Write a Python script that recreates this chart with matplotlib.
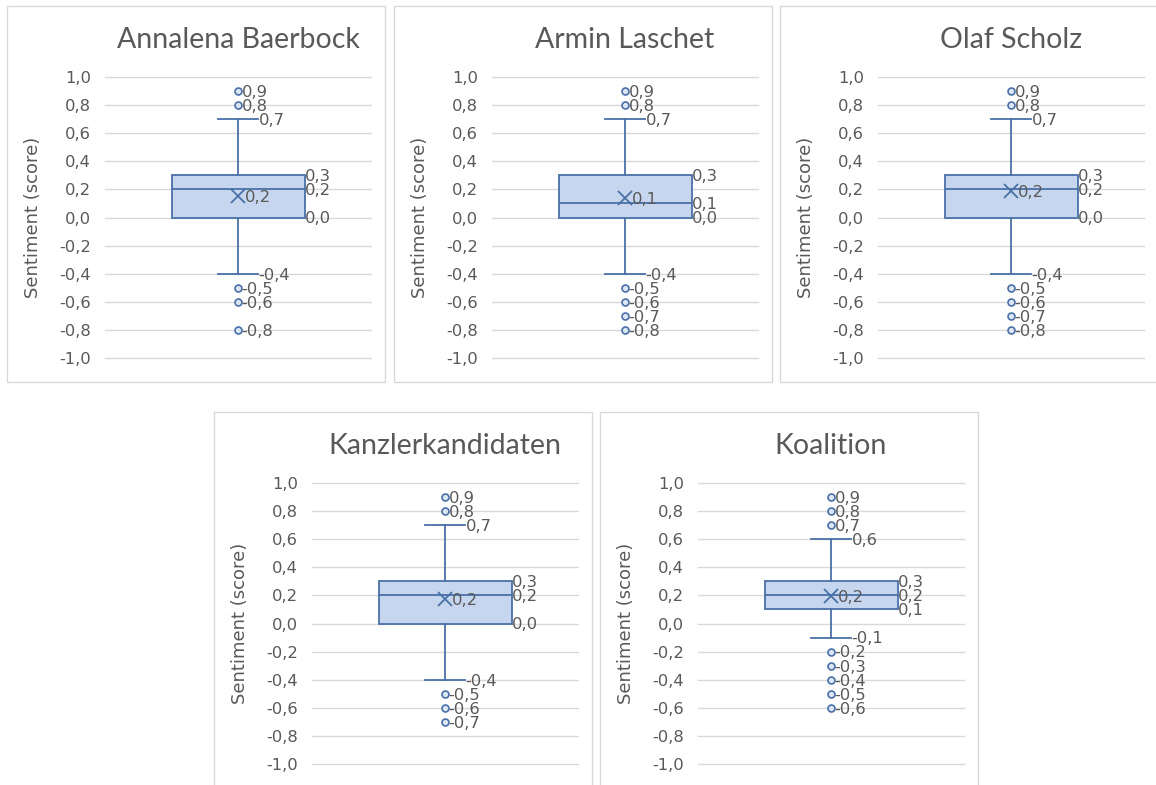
import matplotlib
matplotlib.use("Agg")
import matplotlib.pyplot as plt
from matplotlib.patches import Rectangle
from matplotlib.ticker import FuncFormatter

plt.rcParams['font.family'] = ['DejaVu Sans']

# sentiment score summaries per group
titles = ["Annalena Baerbock", "Armin Laschet", "Olaf Scholz",
          "Kanzlerkandidaten", "Koalition"]
q1 = [0.0, 0.0, 0.0, 0.0, 0.1]
median = [0.2, 0.1, 0.2, 0.2, 0.2]
q3 = [0.3, 0.3, 0.3, 0.3, 0.3]
whisker_low = [-0.4, -0.4, -0.4, -0.4, -0.1]
whisker_high = [0.7, 0.7, 0.7, 0.7, 0.6]
mean = [0.152, 0.14, 0.19, 0.171, 0.197]
outliers = [
    [0.9, 0.8, -0.5, -0.6, -0.8],
    [0.9, 0.8, -0.5, -0.6, -0.7, -0.8],
    [0.9, 0.8, -0.5, -0.6, -0.7, -0.8],
    [0.9, 0.8, -0.5, -0.6, -0.7],
    [0.9, 0.8, 0.7, -0.2, -0.3, -0.4, -0.5, -0.6],
]
y_ticks = [-1.0, -0.8, -0.6, -0.4, -0.2, 0.0, 0.2, 0.4, 0.6, 0.8, 1.0]

W, H = 1156, 785
BLUE = '#4a70a8'
FILL = '#c6d6ee'
GREY_TXT = '#595959'
GRID = '#d9d9d9'
SMALL = 11.8

# top-left corner of each chart frame, in pixels
frames = [(7, 6), (394, 6), (780, 6), (214, 412), (600, 412)]
FRAME_W, FRAME_H = 378, 376
PLOT_L, PLOT_T, PLOT_W, PLOT_H = 98, 71, 266, 281
CAP_W = 0.15


def comma(v, pos=None):
    return f"{v:.1f}".replace('.', ',')


fig = plt.figure(figsize=(W / 100, H / 100), dpi=100)

for i, (fx, fy) in enumerate(frames):
    fig.patches.append(Rectangle((fx / W, 1 - (fy + FRAME_H) / H), FRAME_W / W, FRAME_H / H,
                                 transform=fig.transFigure, facecolor='none',
                                 edgecolor=GRID, lw=1.0, zorder=0))
    ax = fig.add_axes([(fx + PLOT_L) / W, 1 - (fy + PLOT_T + PLOT_H) / H, PLOT_W / W, PLOT_H / H])
    ax.set_facecolor('none')

    stats = [dict(q1=q1[i], med=median[i], q3=q3[i], whislo=whisker_low[i],
                  whishi=whisker_high[i], mean=mean[i], fliers=outliers[i])]
    ax.bxp(stats, positions=[1], widths=0.5, capwidths=CAP_W, patch_artist=True,
           showmeans=True,
           boxprops=dict(facecolor=FILL, edgecolor=BLUE, lw=1.3),
           medianprops=dict(color=BLUE, lw=1.3),
           whiskerprops=dict(color=BLUE, lw=1.3),
           capprops=dict(color=BLUE, lw=1.3),
           flierprops=dict(marker='o', markerfacecolor='#dce6f4', markeredgecolor=BLUE,
                           markersize=5, markeredgewidth=1.2),
           meanprops=dict(marker='x', markeredgecolor=BLUE, markersize=10, markeredgewidth=1.3))

    lab = dict(textcoords='offset points', va='center', ha='left', fontsize=SMALL, color=GREY_TXT)
    for v in outliers[i]:
        ax.annotate(comma(v), (1, v), xytext=(2.5, -1), **lab)
    for v in (whisker_low[i], whisker_high[i]):
        ax.annotate(comma(v), (1 + CAP_W / 2, v), xytext=(0.5, -1), **lab)
    for v in (q1[i], median[i], q3[i]):
        ax.annotate(comma(v), (1.25, v), xytext=(0.5, -0.5), **lab)
    ax.annotate(comma(mean[i]), (1, mean[i]), xytext=(5, -1), **lab)

    ax.set_xlim(0.5, 1.5)
    ax.set_ylim(-1, 1)
    ax.set_yticks(y_ticks)
    ax.yaxis.set_major_formatter(FuncFormatter(comma))
    ax.set_xticks([])
    ax.tick_params(axis='y', length=0, pad=10, labelsize=SMALL, labelcolor=GREY_TXT)
    ax.yaxis.grid(True, color=GRID, lw=1.0)
    for gl in ax.get_ygridlines():
        gl.set_clip_on(False)
    ax.set_axisbelow(True)
    for s in ax.spines.values():
        s.set_visible(False)
    ax.set_ylabel("Sentiment (score)", fontsize=13, color=GREY_TXT)
    ax.yaxis.set_label_coords(-0.235, 0.5)
    ax.set_title(titles[i], fontsize=20.5, color=GREY_TXT, pad=21,
                 fontfamily=['Lato', 'DejaVu Sans'])

fig.savefig("out.png", dpi=100, facecolor='white')
